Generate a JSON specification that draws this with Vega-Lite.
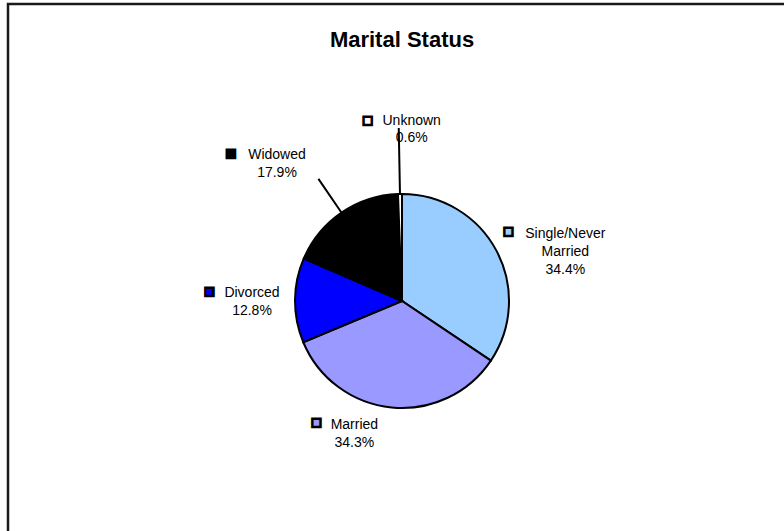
{
  "$schema": "https://vega.github.io/schema/vega-lite/v6.json",
  "width": 788,
  "height": 594,
  "autosize": {"type": "none"},
  "padding": {"left": 8, "top": 4, "right": 0, "bottom": 0},
  "background": "white",
  "view": {"stroke": "#1a1a1a", "strokeWidth": 2.5, "fill": "white"},
  "config": {
    "view": {"stroke": "#1a1a1a", "strokeWidth": 2.5},
    "font": "Liberation Sans"
  },
  "title": {
    "text": "Marital Status",
    "font": "Liberation Sans",
    "fontSize": 22,
    "fontWeight": "bold",
    "color": "black",
    "anchor": "middle",
    "baseline": "alphabetic",
    "offset": -65
  },
  "data": {
    "values": [
      {"category": "Single/Never Married", "value": 34.4, "order": 1, "label": "Single/Never\nMarried\n34.4%"},
      {"category": "Married", "value": 34.3, "order": 2, "label": "Married\n34.3%"},
      {"category": "Divorced", "value": 12.8, "order": 3, "label": "Divorced\n12.8%"},
      {"category": "Widowed", "value": 17.9, "order": 4, "label": "Widowed\n17.9%"},
      {"category": "Unknown", "value": 0.6, "order": 5, "label": "Unknown\n0.6%"}
    ]
  },
  "encoding": {
    "theta": {"field": "value", "type": "quantitative", "stack": true},
    "order": {"field": "order", "type": "quantitative"}
  },
  "layer": [
    {
      "mark": {"type": "arc", "radius": 107, "stroke": "black", "strokeWidth": 2},
      "encoding": {
        "color": {
          "field": "category",
          "type": "nominal",
          "scale": {
            "domain": ["Single/Never Married", "Married", "Divorced", "Widowed", "Unknown"],
            "range": ["#99CCFF", "#9999FF", "#0000FF", "#000000", "#FFFFFF"]
          },
          "legend": null
        }
      }
    },
    {
      "mark": {"type": "arc", "radius": 148, "radius2": 107, "padAngle": 3, "fillOpacity": 0, "stroke": "black", "strokeWidth": 2},
      "encoding": {
        "strokeOpacity": {"condition": {"test": "datum.category === 'Widowed'", "value": 1}, "value": 0}
      }
    },
    {
      "mark": {"type": "arc", "radius": 173, "radius2": 107, "padAngle": 3, "fillOpacity": 0, "stroke": "black", "strokeWidth": 2},
      "encoding": {
        "strokeOpacity": {"condition": {"test": "datum.category === 'Unknown'", "value": 1}, "value": 0}
      }
    },
    {
      "mark": {"type": "text", "radius": 150, "dx": 31, "dy": 8, "align": "center", "baseline": "alphabetic", "lineBreak": "\n", "lineHeight": 18, "fontSize": 14, "font": "Liberation Sans", "color": "black"},
      "encoding": {"text": {"condition": {"test": "datum.category === 'Single/Never Married'", "field": "label"}, "value": ""}}
    },
    {
      "mark": {"type": "text", "radius": 130, "dx": -35, "dy": -1, "align": "center", "baseline": "alphabetic", "lineBreak": "\n", "lineHeight": 18, "fontSize": 14, "font": "Liberation Sans", "color": "black"},
      "encoding": {"text": {"condition": {"test": "datum.category === 'Married'", "field": "label"}, "value": ""}}
    },
    {
      "mark": {"type": "text", "radius": 150, "dx": 0, "dy": -3, "align": "center", "baseline": "alphabetic", "lineBreak": "\n", "lineHeight": 18, "fontSize": 14, "font": "Liberation Sans", "color": "black"},
      "encoding": {"text": {"condition": {"test": "datum.category === 'Divorced'", "field": "label"}, "value": ""}}
    },
    {
      "mark": {"type": "text", "radius": 170, "dx": -29, "dy": -2, "align": "center", "baseline": "alphabetic", "lineBreak": "\n", "lineHeight": 18, "fontSize": 14, "font": "Liberation Sans", "color": "black"},
      "encoding": {"text": {"condition": {"test": "datum.category === 'Widowed'", "field": "label"}, "value": ""}}
    },
    {
      "mark": {"type": "text", "radius": 176, "dx": 13, "dy": 0, "align": "center", "baseline": "alphabetic", "lineBreak": "\n", "lineHeight": 17, "fontSize": 14, "font": "Liberation Sans", "color": "black"},
      "encoding": {"text": {"condition": {"test": "datum.category === 'Unknown'", "field": "label"}, "value": ""}}
    },
    {
      "mark": {"type": "text", "radius": 150, "dx": -26, "dy": 2, "align": "center", "baseline": "middle", "fontSize": 17, "font": "Liberation Sans", "stroke": "black", "strokeWidth": 2.5},
      "encoding": {
        "text": {"condition": {"test": "datum.category === 'Single/Never Married'", "value": "■"}, "value": ""},
        "color": {"field": "category", "type": "nominal", "legend": null}
      }
    },
    {
      "mark": {"type": "text", "radius": 130, "dx": -73, "dy": -7, "align": "center", "baseline": "middle", "fontSize": 17, "font": "Liberation Sans", "stroke": "black", "strokeWidth": 2.5},
      "encoding": {
        "text": {"condition": {"test": "datum.category === 'Married'", "value": "■"}, "value": ""},
        "color": {"field": "category", "type": "nominal", "legend": null}
      }
    },
    {
      "mark": {"type": "text", "radius": 150, "dx": -42.5, "dy": -8, "align": "center", "baseline": "middle", "fontSize": 17, "font": "Liberation Sans", "stroke": "black", "strokeWidth": 2.5},
      "encoding": {
        "text": {"condition": {"test": "datum.category === 'Divorced'", "value": "■"}, "value": ""},
        "color": {"field": "category", "type": "nominal", "legend": null}
      }
    },
    {
      "mark": {"type": "text", "radius": 170, "dx": -75, "dy": -7, "align": "center", "baseline": "middle", "fontSize": 17, "font": "Liberation Sans", "stroke": "black", "strokeWidth": 2.5},
      "encoding": {
        "text": {"condition": {"test": "datum.category === 'Widowed'", "value": "■"}, "value": ""},
        "color": {"field": "category", "type": "nominal", "legend": null}
      }
    },
    {
      "mark": {"type": "text", "radius": 176, "dx": -31, "dy": -4, "align": "center", "baseline": "middle", "fontSize": 17, "font": "Liberation Sans", "stroke": "black", "strokeWidth": 2.5},
      "encoding": {
        "text": {"condition": {"test": "datum.category === 'Unknown'", "value": "■"}, "value": ""},
        "color": {"field": "category", "type": "nominal", "legend": null}
      }
    }
  ]
}
